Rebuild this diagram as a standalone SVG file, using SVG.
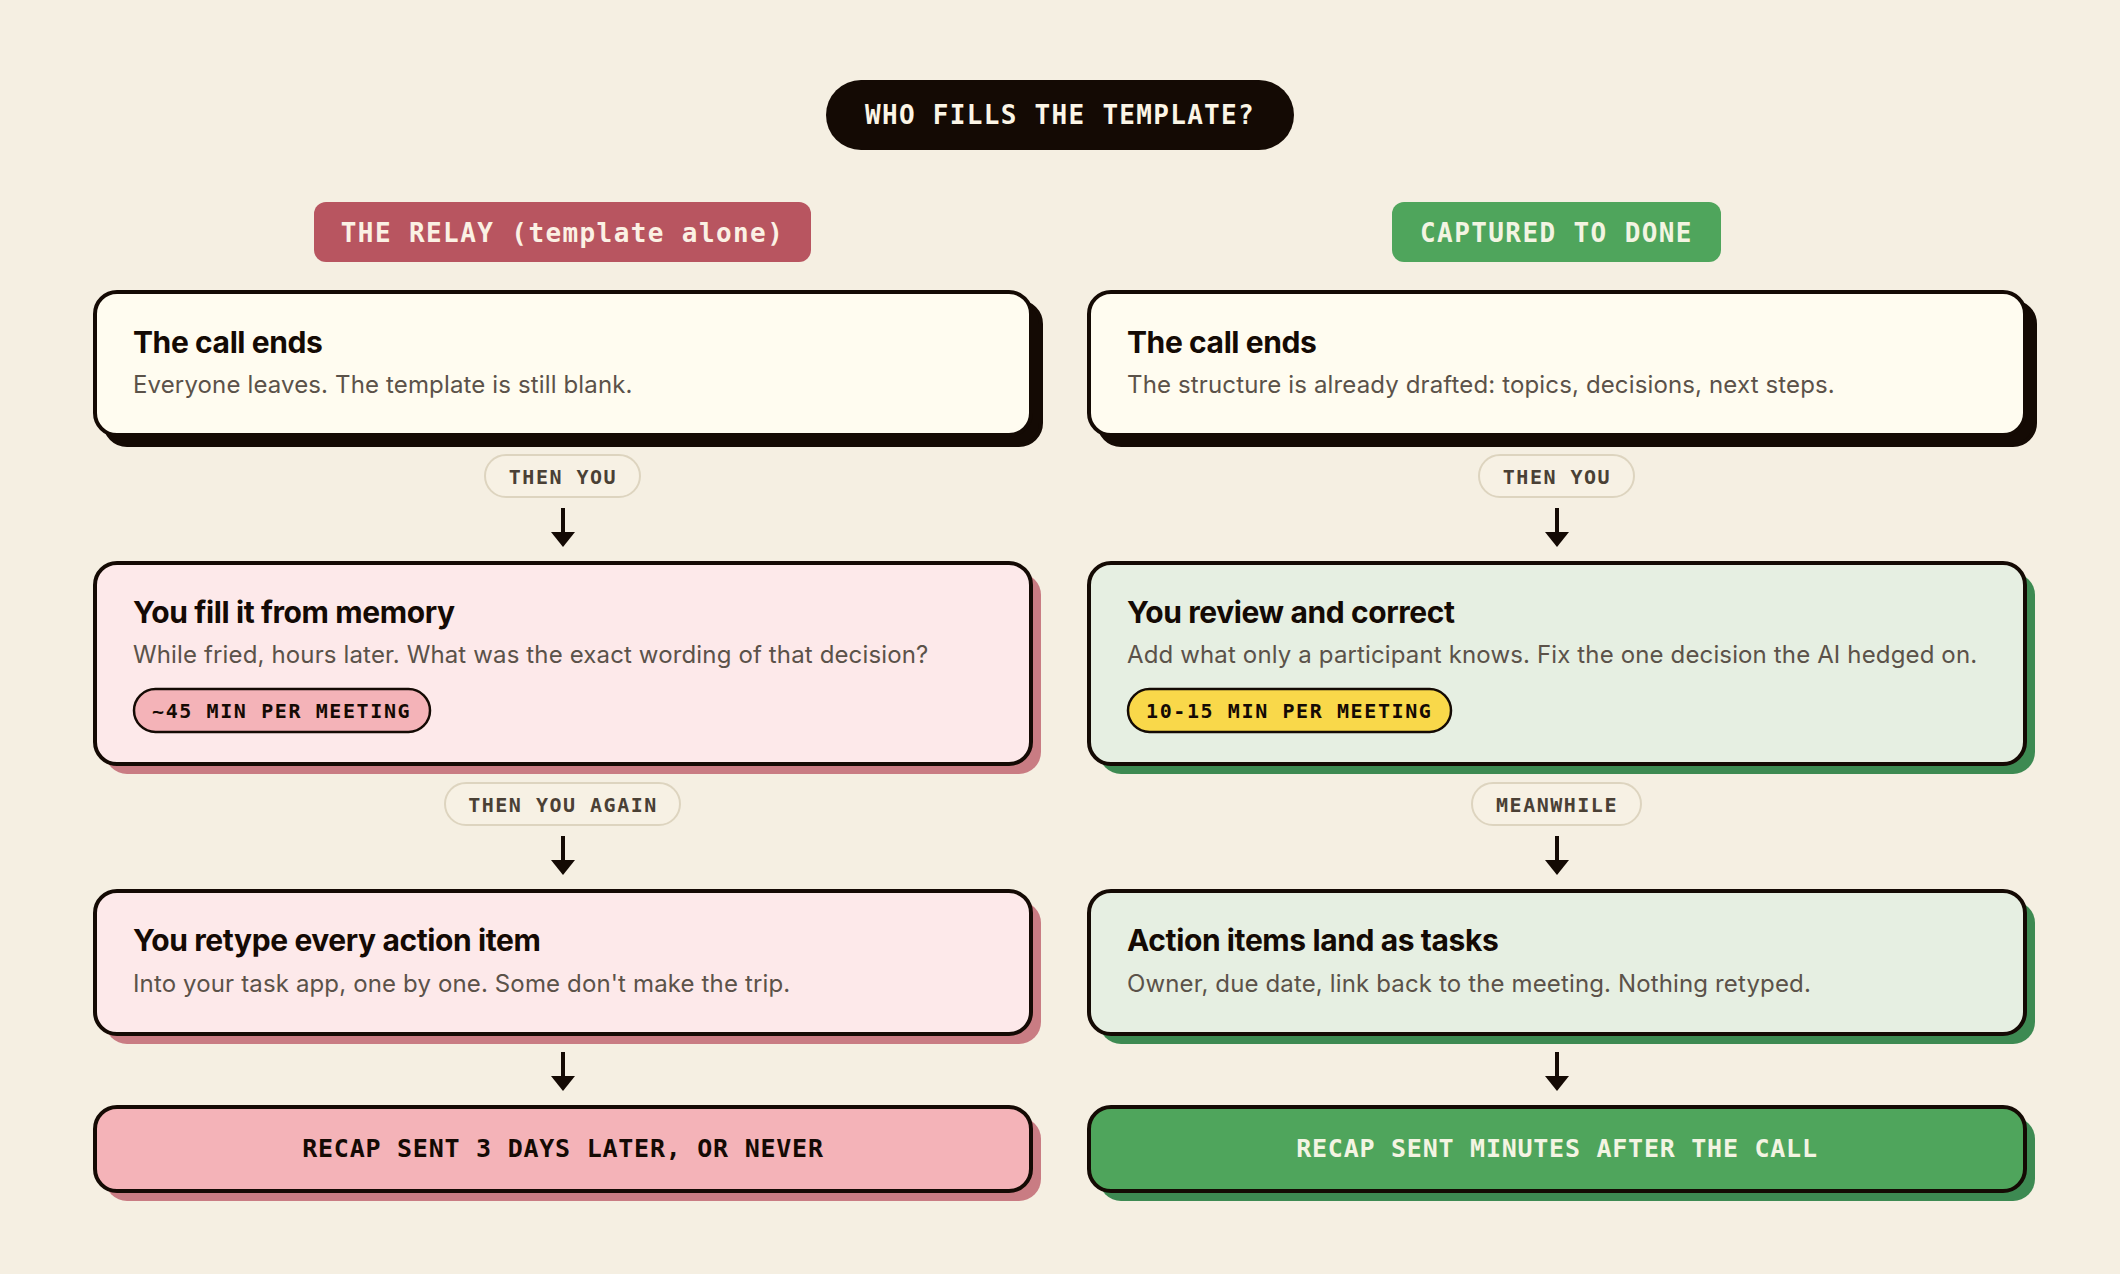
<svg xmlns="http://www.w3.org/2000/svg" width="2120" height="1274" viewBox="0 0 2120 1274">
<defs>
<style>
.mono{font-family:"DejaVu Sans Mono","Liberation Mono",monospace;font-weight:700}
.ttl{font-family:Inter,"Noto Sans",sans-serif;font-weight:700;font-size:30px;fill:#140a04;letter-spacing:-0.4px}
.sub{font-family:Inter,"Noto Sans",sans-serif;font-weight:400;font-size:24px;fill:#5b5249;letter-spacing:0.14px}
.node{stroke:#140a04;stroke-width:4}
.pill{fill:#f7f1e4;stroke:#ddd4bf;stroke-width:2}
.pilltxt{font-size:20px;fill:#4a4035;letter-spacing:1.5px}
.badge{stroke:#140a04;stroke-width:2.5}
.badgetxt{font-size:20px;fill:#140a04;letter-spacing:1.6px}
.arrow{stroke:#140a04;stroke-width:4;fill:none}
</style>
<marker id="ah" viewBox="0 0 15 24" refX="3" refY="12" markerWidth="15" markerHeight="24" markerUnits="userSpaceOnUse" orient="auto">
<path d="M0,0 L15,12 L0,24 Z" fill="#140a04"/>
</marker>
</defs>
<rect width="2120" height="1274" fill="#f5efe2"/>

<g id="title">
<rect x="826" y="80" width="468" height="70" rx="35" fill="#140a04"/>
<text class="mono" x="1060" y="124" text-anchor="middle" font-size="26" letter-spacing="1.3" fill="#fbf5e6">WHO FILLS THE TEMPLATE?</text>
</g>

<g id="header-left">
<rect x="314" y="202" width="497" height="60" rx="12" fill="#b85560"/>
<text class="mono" x="562.5" y="242" text-anchor="middle" font-size="26" letter-spacing="1.4" fill="#fbf1e4">THE RELAY (template alone)</text>
</g>
<g id="header-right">
<rect x="1392" y="202" width="329" height="60" rx="12" fill="#4fa55c"/>
<text class="mono" x="1556.5" y="242" text-anchor="middle" font-size="26" letter-spacing="1.4" fill="#f3f4e2">CAPTURED TO DONE</text>
</g>

<g id="connectors">
<line class="arrow" x1="563" y1="508" x2="563" y2="535" marker-end="url(#ah)"/>
<line class="arrow" x1="563" y1="836" x2="563" y2="863" marker-end="url(#ah)"/>
<line class="arrow" x1="563" y1="1052" x2="563" y2="1079" marker-end="url(#ah)"/>
<line class="arrow" x1="1557" y1="508" x2="1557" y2="535" marker-end="url(#ah)"/>
<line class="arrow" x1="1557" y1="836" x2="1557" y2="863" marker-end="url(#ah)"/>
<line class="arrow" x1="1557" y1="1052" x2="1557" y2="1079" marker-end="url(#ah)"/>
<g id="label-l1">
<rect class="pill" x="485" y="455" width="155" height="42" rx="21"/>
<text class="mono pilltxt" x="563" y="484" text-anchor="middle">THEN YOU</text>
</g>
<g id="label-l2">
<rect class="pill" x="445" y="783" width="235" height="42" rx="21"/>
<text class="mono pilltxt" x="563" y="812" text-anchor="middle">THEN YOU AGAIN</text>
</g>
<g id="label-r1">
<rect class="pill" x="1479" y="455" width="155" height="42" rx="21"/>
<text class="mono pilltxt" x="1557" y="484" text-anchor="middle">THEN YOU</text>
</g>
<g id="label-r2">
<rect class="pill" x="1472" y="783" width="169" height="42" rx="21"/>
<text class="mono pilltxt" x="1557" y="812" text-anchor="middle">MEANWHILE</text>
</g>
</g>

<g id="l-call-ends">
<rect x="105" y="302" width="936" height="143" rx="22" fill="#140a04" stroke="#140a04" stroke-width="4"/>
<rect class="node" x="95" y="292" width="936" height="143" rx="22" fill="#fffcf0"/>
<text class="ttl" x="133" y="353">The call ends</text>
<text class="sub" x="133" y="393">Everyone leaves. The template is still blank.</text>
</g>

<g id="l-fill-memory">
<rect x="105" y="573" width="936" height="201" rx="22" fill="#c97c83"/>
<rect class="node" x="95" y="563" width="936" height="201" rx="22" fill="#fde9ea"/>
<text class="ttl" x="133" y="623">You fill it from memory</text>
<text class="sub" x="133" y="663">While fried, hours later. What was the exact wording of that decision?</text>
<rect class="badge" x="134" y="689" width="296" height="43" rx="21.5" fill="#f4b3b8"/>
<text class="mono badgetxt" x="152" y="718">~45 MIN PER MEETING</text>
</g>

<g id="l-retype">
<rect x="105" y="901" width="936" height="143" rx="22" fill="#c97c83"/>
<rect class="node" x="95" y="891" width="936" height="143" rx="22" fill="#fde9ea"/>
<text class="ttl" x="133" y="951">You retype every action item</text>
<text class="sub" x="133" y="992">Into your task app, one by one. Some don't make the trip.</text>
</g>

<g id="l-recap">
<rect x="105" y="1117" width="936" height="84" rx="22" fill="#c97c83"/>
<rect class="node" x="95" y="1107" width="936" height="84" rx="22" fill="#f4b3b8"/>
<text class="mono" x="563" y="1157" text-anchor="middle" font-size="25" letter-spacing="0.75" fill="#140a04">RECAP SENT 3 DAYS LATER, OR NEVER</text>
</g>

<g id="r-call-ends">
<rect x="1099" y="302" width="936" height="143" rx="22" fill="#140a04" stroke="#140a04" stroke-width="4"/>
<rect class="node" x="1089" y="292" width="936" height="143" rx="22" fill="#fffcf0"/>
<text class="ttl" x="1127" y="353">The call ends</text>
<text class="sub" x="1127" y="393">The structure is already drafted: topics, decisions, next steps.</text>
</g>

<g id="r-review">
<rect x="1099" y="573" width="936" height="201" rx="22" fill="#3d8a52"/>
<rect class="node" x="1089" y="563" width="936" height="201" rx="22" fill="#e6efe2"/>
<text class="ttl" x="1127" y="623">You review and correct</text>
<text class="sub" x="1127" y="663">Add what only a participant knows. Fix the one decision the AI hedged on.</text>
<rect class="badge" x="1128" y="689" width="323" height="43" rx="21.5" fill="#f9d84a"/>
<text class="mono badgetxt" x="1146" y="718">10-15 MIN PER MEETING</text>
</g>

<g id="r-tasks">
<rect x="1099" y="901" width="936" height="143" rx="22" fill="#3d8a52"/>
<rect class="node" x="1089" y="891" width="936" height="143" rx="22" fill="#e6efe2"/>
<text class="ttl" x="1127" y="951">Action items land as tasks</text>
<text class="sub" x="1127" y="992">Owner, due date, link back to the meeting. Nothing retyped.</text>
</g>

<g id="r-recap">
<rect x="1099" y="1117" width="936" height="84" rx="22" fill="#3d8a52"/>
<rect class="node" x="1089" y="1107" width="936" height="84" rx="22" fill="#4fa55c"/>
<text class="mono" x="1557" y="1157" text-anchor="middle" font-size="25" letter-spacing="0.75" fill="#f3f4e2">RECAP SENT MINUTES AFTER THE CALL</text>
</g>
</svg>
